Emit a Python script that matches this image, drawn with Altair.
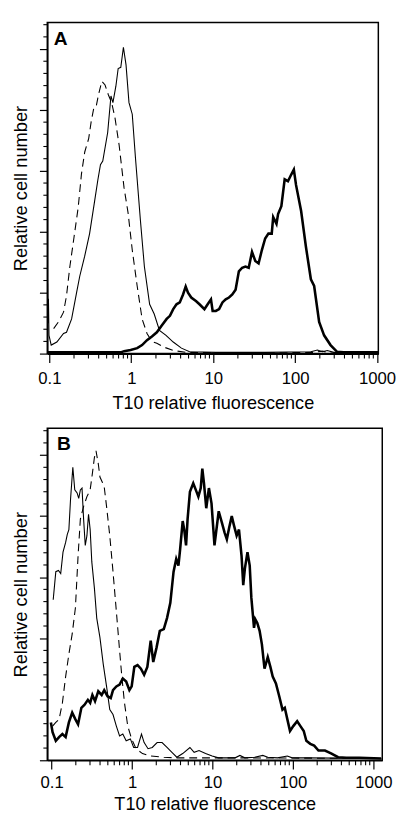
import altair as alt
import pandas as pd

# ---------------- Panel A data ----------------
a_thin_x = [0.0946, 0.0952, 0.096, 0.0975, 0.099, 0.1054, 0.1235, 0.149, 0.162, 0.187, 0.215,
            0.235, 0.27, 0.31, 0.3565, 0.3908, 0.4207, 0.4487, 0.5152, 0.5649, 0.597, 0.6486,
            0.6918, 0.7447, 0.8017, 0.863, 0.9376, 1.028, 1.127, 1.294, 1.445, 1.675, 1.905,
            2.208, 2.655, 3.251, 4.093, 5.152, 10.77, 42.85, 155.6, 187.1, 214.8, 246.6, 296.5, 1028]
a_thin_y = [0.2, 1.15, 0.5, 0.9, 0.3, 0.14, 0.19, 0.33, 0.35, 0.57, 1.0,
            1.27, 1.6, 1.97, 2.5, 2.85, 3.1, 3.16, 3.63, 4.23, 4.12, 4.39,
            4.68, 4.7, 5.03, 4.74, 4.12, 3.93, 3.2, 2.18, 1.43, 0.81, 0.65,
            0.38, 0.3, 0.19, 0.09, 0.03, 0.02, 0.02, 0.03, 0.06, 0.03, 0.05, 0.02, 0.02]

a_dash_x = [0.1128, 0.129, 0.149, 0.162, 0.178, 0.2, 0.225, 0.2466, 0.2704, 0.302, 0.3251, 0.3499,
            0.3733, 0.3981, 0.4365, 0.4786, 0.5248, 0.5754, 0.631, 0.7112, 0.8166, 0.912, 1.028,
            1.18, 1.355, 1.556, 1.786, 2.051, 2.466, 3.251, 4.699, 42.85, 170.6, 214.8, 270.4, 1028]
a_dash_y = [0.41, 0.52, 0.68, 0.95, 1.43, 1.91, 2.4, 2.95, 3.31, 3.53, 3.82, 4.04,
            4.06, 4.25, 4.47, 4.41, 4.25, 4.12, 3.88, 3.42, 2.72, 2.32, 1.7,
            1.11, 0.57, 0.33, 0.2, 0.17, 0.11, 0.05, 0.02, 0.01, 0.02, 0.04, 0.01, 0.01]

a_thick_x = [0.095, 0.4285, 0.744, 0.8166, 0.9817, 1.18, 1.355, 1.556, 1.786, 2.051, 2.355, 2.704,
             2.965, 3.251, 3.565, 3.908, 4.285, 4.614, 4.925, 5.395, 6.2, 6.8, 7.81, 8.56, 9.39,
             9.84, 10.77, 11.81, 12.96, 14.21, 15.58, 17.1, 18.75, 20.56, 22.55, 24.73, 27.13,
             29.75, 32.63, 35.79, 39.26, 43.06, 47.2, 51.8, 53.95, 59.2, 61.9, 67.9, 74.5, 81.7,
             89.6, 96.4, 102.5, 118.3, 135.5, 155.6, 170.6, 196.3, 225.7, 270.4, 325.1, 391, 1028]
a_thick_y = [0.02, 0.02, 0.02, 0.04, 0.06, 0.09, 0.14, 0.22, 0.28, 0.35, 0.46, 0.57,
             0.62, 0.73, 0.81, 0.84, 0.97, 1.1, 1.0, 0.92, 0.86, 0.81, 0.73, 0.81, 0.89,
             0.7, 0.7, 0.73, 0.84, 0.89, 0.92, 0.97, 1.05, 1.35, 1.41, 1.43, 1.41,
             1.67, 1.52, 1.48, 1.7, 1.89, 1.97, 1.97, 2.24, 2.13, 2.29, 2.42, 2.86, 2.83,
             2.94, 3.02, 2.77, 2.34, 1.75, 1.22, 1.11, 0.52, 0.3, 0.14, 0.03, 0.02, 0.02]

# ---------------- Panel B data ----------------
b_thin_x = [0.1047, 0.1128, 0.1217, 0.1298, 0.1386, 0.1494, 0.1567, 0.164, 0.1718, 0.1836,
            0.194, 0.2075, 0.2173, 0.2277, 0.2388, 0.25, 0.262, 0.2748, 0.2877, 0.3015,
            0.316, 0.3404, 0.3639, 0.399, 0.4379, 0.4819, 0.5284, 0.5797, 0.638, 0.6998,
            0.7674, 0.845, 0.953, 1.047, 1.17, 1.31, 1.413, 1.58, 1.783, 2.05,
            2.36, 2.72, 3.13, 3.6, 4.26, 5.24, 5.91, 6.8, 8.2, 9.9,
            11.9, 19.1, 21.9, 25.2, 33.4, 42.2, 48.6, 64.3, 85.1, 97.8, 149, 1250]
b_thin_y = [2.63, 3.09, 3.11, 3.06, 3.41, 3.57, 3.7, 3.78, 4.27, 4.8,
            4.43, 4.38, 4.29, 4.43, 4.46, 3.95, 3.52, 3.68, 4.03, 3.78,
            3.25, 2.82, 2.33, 2.01, 1.58, 1.21, 0.83, 0.75, 0.56, 0.4,
            0.43, 0.32, 0.35, 0.21, 0.21, 0.43, 0.29, 0.19, 0.21, 0.29,
            0.29, 0.21, 0.13, 0.05, 0.11, 0.21, 0.13, 0.16, 0.11, 0.07,
            0.04, 0.04, 0.08, 0.04, 0.05, 0.08, 0.05, 0.04, 0.07, 0.04, 0.04, 0.03]

b_dash_x = [0.1028, 0.1128, 0.1238, 0.1362, 0.1494, 0.164, 0.1803, 0.1977, 0.2133, 0.2277,
            0.25, 0.2748, 0.3015, 0.3213, 0.3404, 0.3565, 0.3802, 0.399, 0.4258, 0.4508,
            0.4819, 0.5284, 0.5797, 0.638, 0.6998, 0.7464, 0.8055, 0.8836, 0.989, 1.12,
            1.348, 1.705, 2.48, 3.44, 20, 1250]
b_dash_y = [0.56, 0.62, 0.67, 0.94, 1.37, 1.74, 2.07, 2.5, 3.35, 3.95,
            4.16, 4.32, 4.43, 4.7, 4.96, 5.07, 4.86, 4.64, 4.56, 4.48,
            4.16, 3.68, 3.09, 2.44, 1.8, 1.37, 0.94, 0.56, 0.35, 0.19,
            0.11, 0.07, 0.05, 0.04, 0.04, 0.03]

b_thick_x = [0.098, 0.1028, 0.1128, 0.1238, 0.1362, 0.1494, 0.164, 0.1803, 0.1977, 0.2133,
             0.2344, 0.257, 0.2825, 0.3015, 0.3213, 0.3467, 0.3802, 0.419, 0.4508, 0.4955,
             0.5433, 0.5797, 0.638, 0.6998, 0.7674, 0.845, 0.927, 0.989, 1.067, 1.17,
             1.288, 1.413, 1.549, 1.705, 1.834, 2.018, 2.213, 2.48, 2.72, 2.99,
             3.28, 3.54, 3.77, 3.96, 4.26, 4.47, 4.69, 4.9, 5.24, 5.76,
             6.2, 6.67, 7.14, 7.47, 7.83, 8.36, 9.02, 9.72, 10.58, 11.07,
             11.94, 13.1, 14.13, 15.07, 16.1, 17.34, 18.54, 19.95, 21.33, 22.96,
             24.1, 25.25, 27.2, 29.0, 30.4, 32.8, 34.0, 36.0, 38.5, 41.1,
             44.3, 48.6, 52.4, 56.0, 61.4, 67.5, 74.1, 79.1, 85.2, 91.9,
             100.9, 112.8, 123.8, 136.1, 146.6, 164, 183.4, 207.5, 250, 301.4,
             363.9, 459, 667, 1250]
b_thick_y = [0.62, 0.46, 0.32, 0.38, 0.43, 0.38, 0.62, 0.78, 0.67, 0.59,
             0.86, 0.91, 0.99, 0.94, 1.07, 0.97, 1.13, 1.07, 1.15, 1.05,
             1.02, 1.15, 1.21, 1.24, 1.34, 1.29, 1.15, 1.21, 1.53, 1.56,
             1.5, 1.4, 1.53, 1.96, 1.61, 1.85, 2.12, 2.15, 2.33, 2.58,
             3.09, 3.3, 3.19, 3.46, 3.92, 3.76, 3.52, 3.95, 4.4, 4.54,
             4.43, 4.32, 4.46, 4.78, 4.54, 4.13, 4.46, 4.21, 3.52, 3.73,
             4.08, 3.89, 3.73, 3.62, 3.81, 4.0, 3.84, 3.68, 3.78, 3.35,
             2.87, 3.14, 3.41, 3.19, 2.66, 2.17, 2.31, 2.25, 2.12, 1.9,
             1.5, 1.69, 1.53, 1.37, 1.26, 1.05, 0.83, 0.86, 0.67, 0.48,
             0.56, 0.64, 0.56, 0.48, 0.32, 0.27, 0.24, 0.16, 0.16, 0.11,
             0.05, 0.04, 0.04, 0.03]

# ---------------- Axis tick values ----------------
x_major = [0.1, 1, 10, 100, 1000]
x_minor = [0.2, 0.3, 0.4, 0.5, 0.6, 0.7, 0.8, 0.9,
           2, 3, 4, 5, 6, 7, 8, 9,
           20, 30, 40, 50, 60, 70, 80, 90,
           200, 300, 400, 500, 600, 700, 800, 900]
y_major = [0, 1, 2, 3, 4, 5]
y_minor = [0.2, 0.4, 0.6, 0.8, 1.2, 1.4, 1.6, 1.8, 2.2, 2.4, 2.6, 2.8,
           3.2, 3.4, 3.6, 3.8, 4.2, 4.4, 4.6, 4.8, 5.2, 5.4]

FONT = "Liberation Sans"


def frame(xs, ys):
    assert len(xs) == len(ys)
    return pd.DataFrame({"x": xs, "y": ys})


def panel(letter, thin, dash, thick, xdom, ydom, w, h, lab_pad, xt_pad, lx, ly):
    xscale = alt.Scale(type="log", domain=xdom, nice=False)
    yscale = alt.Scale(domain=ydom, nice=False, zero=False)
    xaxis = alt.Axis(values=x_major, format="~g", title="T10 relative fluorescence",
                     tickSize=9, tickWidth=1.2, labelPadding=lab_pad, titlePadding=xt_pad,
                     labelFontSize=17, titleFontSize=18.4, labelFlush=False,
                     labelOverlap=False)
    yaxis = alt.Axis(values=y_major, labels=False, title="Relative cell number",
                     tickSize=8, tickWidth=1.2, titlePadding=9,
                     titleFontSize=18.6)

    def enc_xy(ch):
        return ch.encode(
            x=alt.X("x:Q", scale=xscale, axis=xaxis),
            y=alt.Y("y:Q", scale=yscale, axis=yaxis),
        )

    ymin = alt.Chart(pd.DataFrame({"y": y_minor})).mark_rule(
        color="black", strokeWidth=1.1
    ).encode(
        y=alt.Y("y:Q", scale=yscale, axis=yaxis),
        x=alt.value(-4), x2=alt.value(0),
    )
    xmin = alt.Chart(pd.DataFrame({"x": x_minor})).mark_rule(
        color="black", strokeWidth=1.1
    ).encode(
        x=alt.X("x:Q", scale=xscale, axis=xaxis),
        y=alt.value(h), y2=alt.value(h + 5),
    )
    l_thin = enc_xy(alt.Chart(frame(*thin)).mark_line(
        color="black", strokeWidth=1.1, clip=True))
    l_dash = enc_xy(alt.Chart(frame(*dash)).mark_line(
        color="black", strokeWidth=1.1, strokeDash=[8, 5], clip=True))
    l_thick = enc_xy(alt.Chart(frame(*thick)).mark_line(
        color="black", strokeWidth=2.6, clip=True))
    lab = alt.Chart(pd.DataFrame({"t": [letter]})).mark_text(
        font=FONT, fontSize=19.5, fontWeight="bold", align="left",
        baseline="alphabetic", color="black"
    ).encode(text="t:N", x=alt.value(lx), y=alt.value(ly))

    return alt.layer(ymin, xmin, l_dash, l_thin, l_thick, lab).properties(
        width=w, height=h
    )


pA = panel("A", (a_thin_x, a_thin_y), (a_dash_x, a_dash_y), (a_thick_x, a_thick_y),
           [0.0944, 1036], [0, 5.435], 337, 337, 8, 7.5, 6.5, 23)
pB = panel("B", (b_thin_x, b_thin_y), (b_dash_x, b_dash_y), (b_thick_x, b_thick_y),
           [0.0884, 1288], [0, 5.44], 341, 338, 6, 4.5, 10, 21.7)

chart = alt.vconcat(pA, pB, spacing=15).properties(
    padding={"left": 2, "top": 6.5, "right": 0, "bottom": 0}
).configure_view(
    stroke="black", strokeWidth=1.5
).configure_axis(
    domainColor="black", domainWidth=1.6, tickColor="black", labelColor="black",
    titleColor="black", grid=False, labelFont=FONT, titleFont=FONT,
    titleFontWeight="normal"
)

chart.save("out.html", embed_options={"renderer": "svg", "actions": False})
